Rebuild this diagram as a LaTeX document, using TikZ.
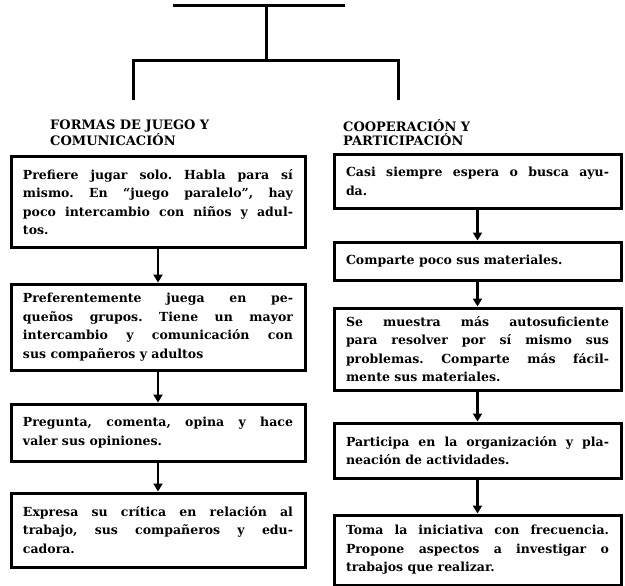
\documentclass[tikz,border=0pt]{standalone}
\usepackage{fontspec}
\setmainfont{DejaVu Serif}
\usetikzlibrary{arrows.meta}
\frenchspacing

\begin{document}
\begin{tikzpicture}[x=1pt,y=-1pt,
  linea/.style={line width=3pt},
  flecha/.style={line width=2.8pt,-{Triangle[width=9pt,length=8pt]}},
  titulo/.style={align=left,anchor=west,inner sep=0pt,
    font=\bfseries\fontsize{13}{14}\selectfont},
  caja/.style={draw,line width=3pt,align=justify,inner xsep=12pt,inner ysep=4pt,
    font=\bfseries\fontsize{12.5}{18.5}\selectfont}]
  \useasboundingbox (0,0) rectangle (625,586);

  % arbol de arriba
  \coordinate (ti) at (173,6);
  \coordinate (td) at (345,6);
  \coordinate (tc) at (266,6);
  \coordinate (rc) at (266,61);
  \coordinate (ri) at (133,61);
  \coordinate (rd) at (398,61);
  \coordinate (bi) at (133,100);
  \coordinate (bd) at (398,100);
  \draw[linea] (ti) -- (td);
  \draw[linea] (tc) -- (rc);
  \draw[linea] (bi) -- (ri) -- (rd) -- (bd);

  % titulos
  \node[titulo] (t1) at (50,133) {FORMAS DE JUEGO Y\\COMUNICACIÓN};
  \node[titulo] (t2) at (343,133) {COOPERACIÓN Y\\PARTICIPACIÓN};

  % columna izquierda
  \node[caja,text width=270pt,minimum height=90pt] (l1) at (158,202)
    {Prefiere jugar solo. Habla para sí\linebreak mismo. En ``juego paralelo'', hay\linebreak poco intercambio con niños y adul-\linebreak tos.};
  \node[caja,text width=270pt,minimum height=86pt] (l2) at (158,327)
    {Preferentemente juega en pe-\linebreak queños grupos. Tiene un mayor\linebreak intercambio y comunicación con\linebreak sus compañeros y adultos};
  \node[caja,text width=270pt,minimum height=57pt] (l3) at (158,432.5)
    {Pregunta, comenta, opina y hace\linebreak valer sus opiniones.};
  \node[caja,text width=270pt,minimum height=74pt] (l4) at (158,530)
    {Expresa su crítica en relación al\linebreak trabajo, sus compañeros y edu-\linebreak cadora.};

  % columna derecha
  \node[caja,text width=263pt,minimum height=53pt] (r1) at (477.5,181.5)
    {Casi siempre espera o busca ayu-\linebreak da.};
  \node[caja,text width=263pt,minimum height=38pt] (r2) at (477.5,261)
    {Comparte poco sus materiales.};
  \node[caja,text width=263pt,minimum height=82pt] (r3) at (477.5,349)
    {Se muestra más autosuficiente\linebreak para resolver por sí mismo sus\linebreak problemas. Comparte más fácil-\linebreak mente sus materiales.};
  \node[caja,text width=263pt,minimum height=55pt] (r4) at (477.5,450.5)
    {Participa en la organización y pla-\linebreak neación de actividades.};
  \node[caja,text width=263pt,minimum height=70pt] (r5) at (477.5,550)
    {Toma la iniciativa con frecuencia.\linebreak Propone aspectos a investigar o\linebreak trabajos que realizar.};

  \draw[flecha] (l1) -- (l2);
  \draw[flecha] (l2) -- (l3);
  \draw[flecha] (l3) -- (l4);
  \draw[flecha] (r1) -- (r2);
  \draw[flecha] (r2) -- (r3);
  \draw[flecha] (r3) -- (r4);
  \draw[flecha] (r4) -- (r5);
\end{tikzpicture}
\end{document}
